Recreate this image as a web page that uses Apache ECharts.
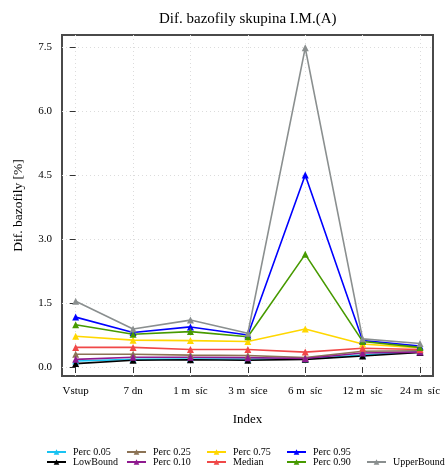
<!DOCTYPE html>
<html><head><meta charset="utf-8">
<script src="https://cdn.jsdelivr.net/npm/echarts@6/dist/echarts.min.js"></script>
<style>html,body{margin:0;padding:0;background:#fff}#c{width:445px;height:473px}</style>
</head><body><div id="c"></div>
<script>
const categories = ['Vstup', '7 dn', '1 m  síc', '3 m  síce', '6 m  síc', '12 m  síc', '24 m  síc'];
const yTicks = [0, 1.5, 3.0, 4.5, 6.0, 7.5];
const perc05 = [0.14, 0.18, 0.19, 0.19, 0.19, 0.28, 0.36];
const lowBound = [0.08, 0.16, 0.17, 0.16, 0.18, 0.26, 0.34];
const perc25 = [0.30, 0.30, 0.28, 0.27, 0.22, 0.37, 0.38];
const perc10 = [0.18, 0.23, 0.23, 0.22, 0.20, 0.33, 0.35];
const perc75 = [0.72, 0.63, 0.62, 0.60, 0.89, 0.54, 0.45];
const median = [0.46, 0.46, 0.41, 0.41, 0.35, 0.44, 0.41];
const perc95 = [1.17, 0.81, 0.94, 0.75, 4.50, 0.62, 0.49];
const perc90 = [0.99, 0.77, 0.83, 0.71, 2.64, 0.60, 0.46];
const upperBound = [1.54, 0.89, 1.10, 0.79, 7.48, 0.66, 0.55];

const seriesDefs = [
  ['Perc 0.05', perc05, '#19c3f2'],
  ['LowBound', lowBound, '#000000'],
  ['Perc 0.25', perc25, '#8c7355'],
  ['Perc 0.10', perc10, '#8f1a8f'],
  ['Perc 0.75', perc75, '#ffd700'],
  ['Median', median, '#f04848'],
  ['Perc 0.95', perc95, '#0000ff'],
  ['Perc 0.90', perc90, '#479a00'],
  ['UpperBound', upperBound, '#8a8f8f']
];
const font = 'Liberation Serif';
const legendPos = [
  [46, 447], [46, 457],
  [126, 447], [126, 457],
  [206, 447], [206, 457],
  [286, 447], [286, 457],
  [366, 457]
];
const chart = echarts.init(document.getElementById('c'));
chart.setOption({
  animation: false,
  backgroundColor: '#fff',
  title: {text: 'Dif. bazofily skupina I.M.(A)', left: 154, top: 7,
    textStyle: {fontFamily: font, fontSize: 15, fontWeight: 'normal', color: '#000'}},
  grid: {left: 62, right: 12, top: 35, bottom: 97, show: true, borderColor: '#4a4a4a', borderWidth: 2},
  legend: seriesDefs.map((d, i) => ({
    data: [d[0]], left: legendPos[i][0], top: legendPos[i][1], itemWidth: 19, itemHeight: 7, itemGap: 0,
    padding: 0, textStyle: {fontFamily: font, fontSize: 10, color: '#000', padding: [0, 0, 0, 2]}
  })),
  xAxis: {type: 'value', min: -0.238, max: 6.226, name: 'Index', nameLocation: 'middle', nameGap: 37,
    nameTextStyle: {fontFamily: font, fontSize: 13, color: '#000'},
    axisLine: {show: false},
    axisTick: {show: true, length: 6, lineStyle: {color: '#333'}, customValues: [0,1,2,3,4,5,6]},
    axisLabel: {customValues: [0,1,2,3,4,5,6], formatter: v => categories[Math.round(v)], fontFamily: font, fontSize: 11, color: '#000', margin: 10},
    splitLine: {show: true, lineStyle: {color: '#dcdcdc', type: [1, 3], width: 1}}},
  yAxis: {type: 'value', min: -0.21, max: 7.78, name: 'Dif. bazofily [%]', nameLocation: 'middle', nameGap: 37,
    nameTextStyle: {fontFamily: font, fontSize: 13.5, color: '#000'},
    axisLine: {show: false},
    axisTick: {show: true, length: 6, lineStyle: {color: '#333'}, customValues: yTicks},
    axisLabel: {customValues: yTicks, formatter: v => v.toFixed(1), fontFamily: font, fontSize: 11, color: '#000', margin: 10},
    splitLine: {show: true, lineStyle: {color: '#dcdcdc', type: [1, 3], width: 1}}},
  series: seriesDefs.map(d => ({
    name: d[0], type: 'line', data: d[1].map((v, i) => [i, v]),
    symbol: 'triangle', symbolSize: 7, color: d[2],
    lineStyle: {width: 1.6, color: d[2]}, itemStyle: {color: d[2]}
  }))
});
</script></body></html>
